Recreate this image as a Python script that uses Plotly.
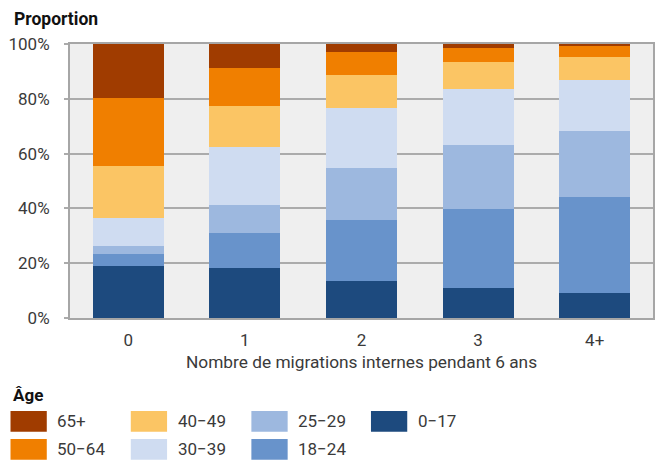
import plotly.graph_objects as go

# Number of internal migrations over 6 years
categories = ["0", "1", "2", "3", "4+"]

# Share (%) of each age group within each category, bottom to top of the stack
age_groups = ["0−17", "18−24", "25−29", "30−39", "40−49", "50−64", "65+"]
share_0_17 = [19.1, 18.4, 13.6, 11.1, 9.2]
share_18_24 = [4.4, 12.7, 22.3, 28.8, 35.1]
share_25_29 = [2.9, 10.3, 19.0, 23.3, 24.1]
share_30_39 = [10.2, 20.9, 21.9, 20.5, 18.6]
share_40_49 = [18.7, 15.2, 12.0, 9.8, 8.4]
share_50_64 = [25.1, 13.9, 8.4, 5.1, 4.1]
share_65_plus = [19.6, 8.6, 2.8, 1.4, 0.5]

series = [share_0_17, share_18_24, share_25_29, share_30_39,
          share_40_49, share_50_64, share_65_plus]
colors = ["#1D4A7E", "#6893CB", "#9DB8DF", "#CFDCF1",
          "#FBC564", "#F07F00", "#A03C00"]

y_ticks = [0, 20, 40, 60, 80, 100]
y_tick_labels = ["0%", "20%", "40%", "60%", "80%", "100%"]

# Legend layout: columns of (age group) entries
legend_columns = [["65+", "50−64"], ["40−49", "30−39"], ["25−29", "18−24"], ["0−17"]]

W, H = 662, 461
ML, MR, MT, MB = 70, 7, 44, 143
PW = W - ML - MR
PH = H - MT - MB

FONT = "Roboto"
TXT = "#3a3a3a"
FS = 17


def px_x(px):
    return (px - ML) / PW


def px_y(py):
    return (H - MB - py) / PH


fig = go.Figure()
for name, vals, col in zip(age_groups, series, colors):
    fig.add_trace(go.Bar(
        x=categories, y=vals, name=name,
        marker=dict(color=col, line=dict(width=0)),
        showlegend=False,
    ))

annotations = [
    dict(text="<b>Proportion</b>", x=px_x(12), y=px_y(19), xref="paper", yref="paper",
         xanchor="left", yanchor="middle", showarrow=False,
         font=dict(family=FONT, size=17.5, color="#111111")),
    dict(text="Nombre de migrations internes pendant 6 ans", x=px_x(363), y=px_y(362),
         xref="paper", yref="paper", xanchor="center", yanchor="middle", showarrow=False,
         font=dict(family=FONT, size=17.3, color=TXT)),
    dict(text="<b>Âge</b>", x=px_x(11), y=px_y(395), xref="paper", yref="paper",
         xanchor="left", yanchor="middle", showarrow=False,
         font=dict(family=FONT, size=17, color="#111111")),
]

shapes = []
col_left = [10.3, 131, 252, 372]
row_top = [411, 439]
sw_w, sw_h = 36.4, 20.7
color_of = dict(zip(age_groups, colors))
for ci, column in enumerate(legend_columns):
    for ri, label in enumerate(column):
        x0 = col_left[ci]
        y0 = row_top[ri]
        shapes.append(dict(type="rect", xref="paper", yref="paper",
                           x0=px_x(x0), x1=px_x(x0 + sw_w),
                           y0=px_y(y0 + sw_h), y1=px_y(y0),
                           fillcolor=color_of[label], line=dict(width=0)))
        annotations.append(dict(text=label, x=px_x(x0 + sw_w + 8.5), y=px_y(y0 + sw_h / 2),
                                xref="paper", yref="paper", xanchor="left", yanchor="middle",
                                showarrow=False,
                                font=dict(family=FONT, size=FS, color=TXT)))

fig.update_layout(
    width=W, height=H,
    margin=dict(l=ML, r=MR, t=MT, b=MB, pad=0),
    barmode="stack", bargap=0.39,
    plot_bgcolor="#EFEFEF", paper_bgcolor="white",
    font=dict(family=FONT, size=FS, color=TXT),
    annotations=annotations, shapes=shapes,
    showlegend=False,
)
fig.update_xaxes(
    showline=True, linecolor="#A6A6A6", linewidth=2, mirror=True,
    ticks="", showgrid=False, ticklabelstandoff=6,
    tickfont=dict(family=FONT, size=FS, color=TXT),
)
fig.update_yaxes(
    range=[0, 100], tickvals=y_ticks, ticktext=y_tick_labels,
    showline=True, linecolor="#A6A6A6", linewidth=2, mirror=True,
    showgrid=True, gridcolor="#ABABAB", gridwidth=1.5,
    ticks="outside", ticklen=4, tickcolor="#ABABAB", tickwidth=1.5,
    ticklabelstandoff=11, zeroline=False,
    tickfont=dict(family=FONT, size=FS, color=TXT),
)

fig.write_html("out.html")
